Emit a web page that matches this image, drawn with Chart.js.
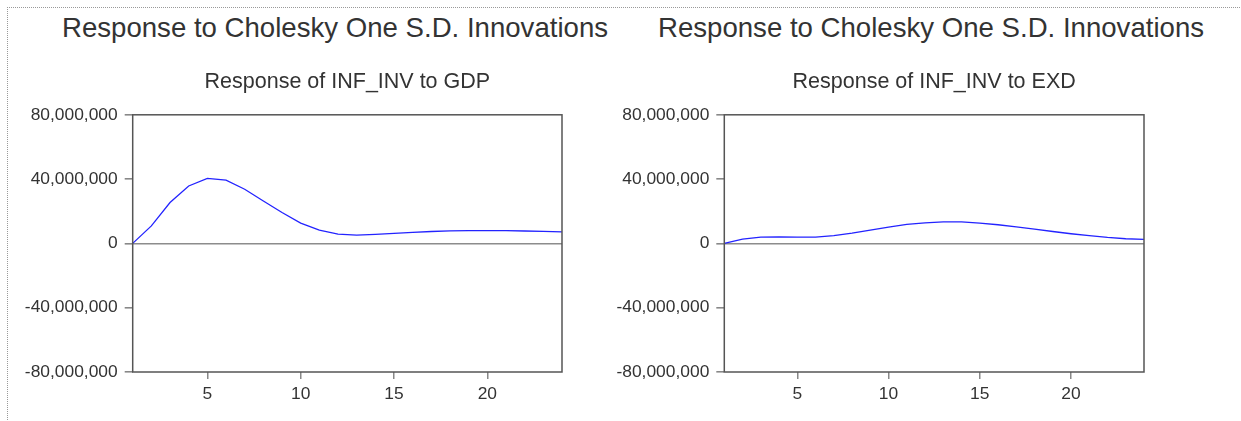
<!DOCTYPE html>
<html>
<head>
<meta charset="utf-8">
<script src="https://cdn.jsdelivr.net/npm/chart.js@4/dist/chart.umd.min.js"></script>
<style>
  body { margin: 0; background: #fff; }
  #page { position: relative; width: 1241px; height: 421px; overflow: hidden; background: #fff; }
  #frame { position: absolute; left: 7px; top: 7px; width: 1300px; height: 500px;
           border-top: 1px dotted #999; border-left: 1px dotted #999; }
  .main-title { position: absolute; top: 14px; font-family: "Liberation Sans", Arial, sans-serif;
                font-size: 27.6px; line-height: 1; color: #333; white-space: nowrap; }
  .box { position: absolute; top: 0; height: 421px; }
</style>
</head>
<body>
<div id="page">
  <div id="frame"></div>
  <div class="main-title" style="left:62px">Response to Cholesky One S.D. Innovations</div>
  <div class="main-title" style="left:658px">Response to Cholesky One S.D. Innovations</div>
  <div class="box" style="left:0;width:614px"><canvas id="gdpChart" width="614" height="421"></canvas></div>
  <div class="box" style="left:614px;width:627px"><canvas id="exdChart" width="627" height="421"></canvas></div>
</div>
<script>
// impulse response periods
const periods = [1, 2, 3, 4, 5, 6, 7, 8, 9, 10, 11, 12, 13, 14, 15, 16, 17, 18, 19, 20, 21, 22, 23, 24];

// Response of INF_INV to GDP
const gdpResponse = [0, 10900000, 25400000, 35700000, 40500000, 39300000, 33700000, 26400000,
    19200000, 12600000, 8200000, 5800000, 5200000, 5600000, 6200000, 6800000,
    7400000, 7800000, 8000000, 8000000, 7900000, 7700000, 7500000, 7200000];

// Response of INF_INV to EXD
const exdResponse = [0, 2700000, 3900000, 4100000, 3900000, 3900000, 4800000, 6400000,
    8300000, 10100000, 11800000, 12800000, 13400000, 13400000, 12600000, 11600000,
    10300000, 8900000, 7400000, 6000000, 4800000, 3700000, 2900000, 2500000];

const yTicks = [-80000000, -40000000, 0, 40000000, 80000000];
const xTicks = [5, 10, 15, 20];

const fontFamily = '"Liberation Sans", Arial, sans-serif';

// frame around the plot area
const plotFrame = {
    id: 'plotFrame',
    afterDraw(chart) {
        const a = chart.chartArea;
        const ctx = chart.ctx;
        ctx.save();
        ctx.strokeStyle = '#555';
        ctx.lineWidth = 1.5;
        ctx.strokeRect(a.left, a.top, a.right - a.left, a.bottom - a.top);
        ctx.restore();
    }
};

const irfChart = (id, title, values, pad) => {
    const ctx = document.getElementById(id).getContext('2d');
    return new Chart(ctx, {
        type: 'line',
        data: {
            datasets: [{
                data: periods.map((p, i) => ({ x: p, y: values[i] })),
                borderColor: 'rgb(35, 35, 255)',
                borderWidth: 1.3,
                pointRadius: 0,
                tension: 0,
                fill: false
            }]
        },
        options: {
            responsive: false,
            animation: false,
            layout: { padding: pad },
            plugins: {
                legend: { display: false },
                tooltip: { enabled: false },
                title: {
                    display: true,
                    text: title,
                    fullSize: false,
                    color: '#333',
                    font: { family: fontFamily, size: 21.5, weight: 'normal' },
                    padding: { top: 69, bottom: 20 }
                }
            },
            scales: {
                x: {
                    type: 'linear',
                    min: 1,
                    max: 24,
                    afterFit: s => { s.height = 49; },
                    afterBuildTicks: s => { s.ticks = xTicks.map(v => ({ value: v })); },
                    border: { display: false },
                    grid: { drawOnChartArea: false, tickLength: 7, tickColor: '#888', lineWidth: 1.5 },
                    ticks: { color: '#333', padding: 5, maxRotation: 0,
                             font: { family: fontFamily, size: 17.4 } }
                },
                y: {
                    min: -80000000,
                    max: 80000000,
                    afterFit: s => { s.width = 108; },
                    afterBuildTicks: s => { s.ticks = yTicks.map(v => ({ value: v })); },
                    border: { display: false },
                    grid: {
                        color: c => (c.tick && c.tick.value === 0) ? '#8c8c8c' : 'rgba(0,0,0,0)',
                        lineWidth: 1.6,
                        tickLength: 8,
                        tickColor: '#888'
                    },
                    ticks: { color: '#333', padding: 7,
                             font: { family: fontFamily, size: 17.4 },
                             callback: v => v.toLocaleString('en-US') }
                }
            }
        },
        plugins: [plotFrame]
    });
};

irfChart('gdpChart', 'Response of INF_INV to GDP', gdpResponse, { left: 24.7, right: 52, top: 0, bottom: 0 });
irfChart('exdChart', 'Response of INF_INV to EXD', exdResponse, { left: 2.3, right: 97, top: 0, bottom: 0 });
</script>
</body>
</html>
